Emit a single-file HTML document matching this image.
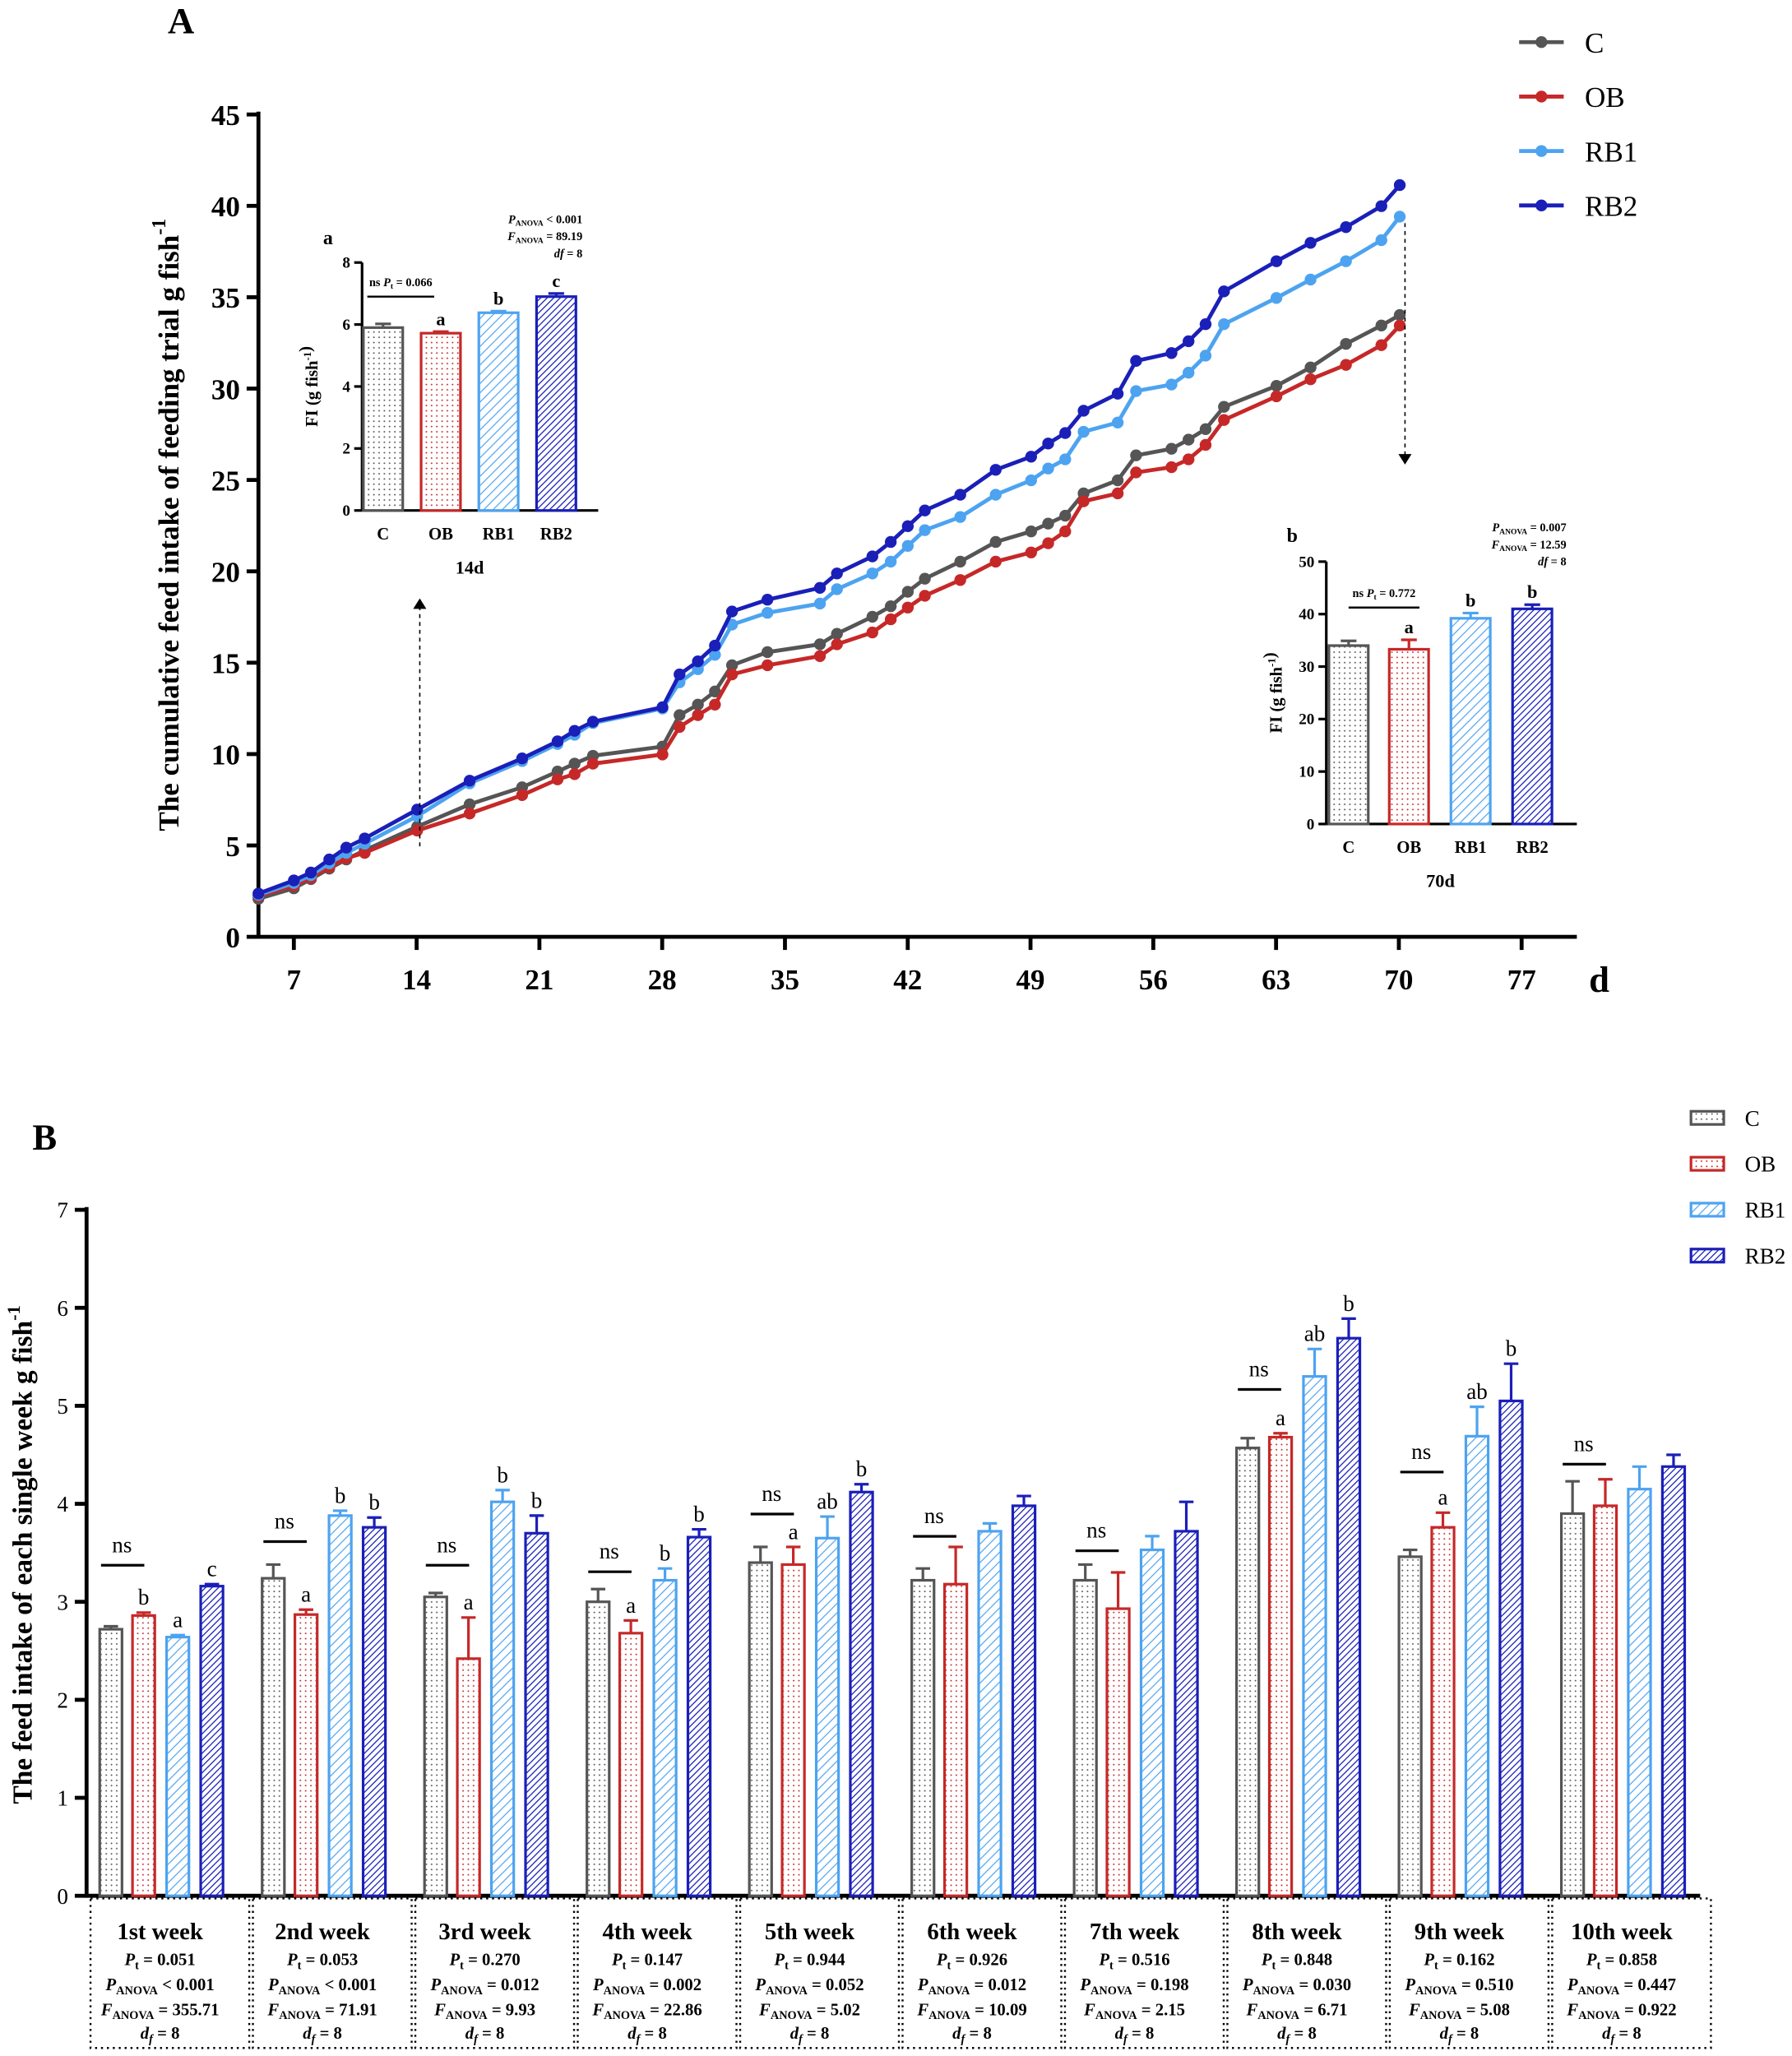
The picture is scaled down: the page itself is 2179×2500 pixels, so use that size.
<!DOCTYPE html><html><head><meta charset="utf-8"><style>body{margin:0;background:#fff}svg{display:block;font-family:"Liberation Serif",serif}</style></head><body>
<svg id="s" width="2179" height="2500" viewBox="0 0 1366 1567" xmlns="http://www.w3.org/2000/svg">
<defs>
<pattern id="pC" width="4" height="4" patternUnits="userSpaceOnUse"><rect width="4" height="4" fill="#fff"/><circle cx="1" cy="1" r="0.6" fill="#555"/></pattern>
<pattern id="pO" width="4" height="4" patternUnits="userSpaceOnUse"><rect width="4" height="4" fill="#fff"/><circle cx="1" cy="1" r="0.6" fill="#c62828"/></pattern>
<pattern id="pR1" width="5" height="5" patternUnits="userSpaceOnUse" patternTransform="rotate(45)"><rect width="5" height="5" fill="#fff"/><line x1="0" y1="0" x2="0" y2="5" stroke="#4da3f0" stroke-width="1.5"/></pattern>
<pattern id="pR2" width="3.5" height="3.5" patternUnits="userSpaceOnUse" patternTransform="rotate(45)"><rect width="4" height="4" fill="#fff"/><line x1="0" y1="0" x2="0" y2="4" stroke="#1a1fb8" stroke-width="1.6"/></pattern>
<marker id="ar" markerWidth="8" markerHeight="10" refX="4" refY="5" orient="auto"><path d="M0,0 L8,5 L0,10 z" fill="#000"/></marker>
</defs>
<g id="g"></g>
</svg>
<script>
const g=document.getElementById('g');let h='';
const col={C:'#555',OB:'#c62828',RB1:'#4da3f0',RB2:'#1a1fb8'};
const pat={C:'url(#pC)',OB:'url(#pO)',RB1:'url(#pR1)',RB2:'url(#pR2)'};
const K=['C','OB','RB1','RB2'];
function T(x,y,t,o){o=o||{};h+=`<text x="${x}" y="${y}" font-size="${o.s||14}" font-weight="${o.w||'bold'}" text-anchor="${o.a||'middle'}" ${o.tr?'transform="'+o.tr+'"':''} fill="#000">${t}</text>`;}
function L(x1,y1,x2,y2,c,w,e){h+=`<line x1="${x1}" y1="${y1}" x2="${x2}" y2="${y2}" stroke="${c||'#000'}" stroke-width="${w||2}" ${e||''}/>`;}
// Panel A
T(138,25,'A',{s:28});
L(197,85,197,715,'#000',3);L(196,714,1202,714,'#000',3);
for(let v=0;v<=45;v+=5){let y=714-v*13.93;L(188,y,197,y,'#000',3);T(183,y+8,v,{s:22,a:'end'});}
[7,14,21,28,35,42,49,56,63,70,77].forEach(d=>{let x=224+(d-7)*13.37;L(x,714,x,724,'#000',3);T(x,754,d,{s:22});});
T(1219,756,'d',{s:28});
T(136,400,'The cumulative feed intake of feeding trial g fish<tspan dy="-10" font-size="15">-1</tspan>',{s:22,tr:'rotate(-90 136 400)'});
const S={
C:[[197,685],[224,677],[237,670],[251,662],[264,655],[278,648],[318,630],[358,613],[398,600],[425,588],[438,582],[452,576],[505,569],[518,545],[532,537],[545,527],[558,507],[585,497],[625,491],[638,483],[665,470],[679,462],[692,451],[705,441],[732,428],[759,413],[786,405],[799,399],[812,393],[826,376],[852,366],[866,347],[893,342],[906,335],[919,327],[933,310],[973,294],[999,280],[1026,262],[1053,248],[1067,240]],
OB:[[197,683],[224,675],[237,669],[251,661],[264,654],[278,650],[318,633],[358,620],[398,606],[425,594],[438,590],[452,582],[505,575],[518,554],[532,545],[545,537],[558,514],[585,507],[625,500],[638,491],[665,482],[679,472],[692,463],[705,454],[732,442],[759,428],[786,421],[799,414],[812,405],[826,382],[852,376],[866,360],[893,356],[906,350],[919,339],[933,320],[973,302],[999,289],[1026,278],[1053,263],[1067,248]],
RB1:[[197,682],[224,673],[237,667],[251,658],[264,650],[278,643],[318,622],[358,597],[398,580],[425,567],[438,560],[452,551],[505,540],[518,520],[532,510],[545,499],[558,476],[585,467],[625,460],[638,449],[665,437],[679,428],[692,416],[705,404],[732,394],[759,377],[786,366],[799,357],[812,350],[826,329],[852,322],[866,298],[893,293],[906,284],[919,271],[933,247],[973,227],[999,213],[1026,199],[1053,183],[1067,165]],
RB2:[[197,681],[224,671],[237,665],[251,655],[264,646],[278,639],[318,617],[358,595],[398,578],[425,565],[438,557],[452,550],[505,539],[518,514],[532,504],[545,492],[558,466],[585,457],[625,448],[638,437],[665,424],[679,413],[692,401],[705,389],[732,377],[759,358],[786,348],[799,338],[812,330],[826,313],[852,300],[866,275],[893,269],[906,260],[919,247],[933,222],[973,199],[999,185],[1026,173],[1053,157],[1067,141]]};
K.forEach(k=>{h+=`<polyline fill="none" stroke="${col[k]}" stroke-width="3" points="${S[k].map(p=>p.join(',')).join(' ')}"/>`;S[k].forEach(p=>h+=`<circle cx="${p[0]}" cy="${p[1]}" r="4.5" fill="${col[k]}"/>`);});
L(320,645,320,460,'#000',1,'stroke-dasharray="3,3" marker-end="url(#ar)"');
L(1071,170,1071,350,'#000',1,'stroke-dasharray="3,3" marker-end="url(#ar)"');
K.forEach((k,i)=>{let y=32+i*41.5;L(1158,y,1192,y,col[k],3);h+=`<circle cx="1175" cy="${y}" r="4.5" fill="${col[k]}"/>`;T(1208,y+8,k,{s:22,a:'start',w:'normal'});});
function inset(x0,x1,yt,yb,max,step,bars,ttl,cap,stat,ns){
 L(x0,yt,x0,yb,'#000',2);L(x0,yb,x1,yb,'#000',2);
 for(let v=0;v<=max;v+=step){let y=yb-v*(yb-yt)/max;L(x0-6,y,x0,y,'#000',2);T(x0-9,y+4,v,{s:12,a:'end'});}
 T(x0-34,(yt+yb)/2,'FI (g fish<tspan dy="-5" font-size="8">-1</tspan>)',{s:13,tr:`rotate(-90 ${x0-34} ${(yt+yb)/2})`});
 T(ttl[0],ttl[1],ttl[2],{s:15});
 bars.forEach((b,i)=>{let k=K[i],y=yb-b[1]*(yb-yt)/max,ye=yb-(b[1]+b[2])*(yb-yt)/max;
  h+=`<rect x="${b[0]}" y="${y}" width="30" height="${yb-y}" fill="${pat[k]}" stroke="${col[k]}" stroke-width="2"/>`;
  L(b[0]+15,y,b[0]+15,ye,col[k],2);L(b[0]+9,ye,b[0]+21,ye,col[k],2);
  T(b[0]+15,yb+22,k,{s:13});if(b[3])T(b[0]+15,ye-5,b[3],{s:14});});
 T((bars[0][0]+bars[3][0]+30)/2,yb+48,cap,{s:14});
 stat.forEach((s,i)=>T(stat.x,stat.y+i*13,s,{s:9,w:'bold',a:'end'}));
 L(ns[0],ns[2],ns[1],ns[2],'#000',1.5);T((ns[0]+ns[1])/2,ns[2]-8,ns[3],{s:9});
}
let st1=['<tspan font-style="italic">P</tspan><tspan font-size="6" dy="2">ANOVA</tspan><tspan dy="-2"> &lt; 0.001</tspan>','<tspan font-style="italic">F</tspan><tspan font-size="6" dy="2">ANOVA</tspan><tspan dy="-2"> = 89.19</tspan>','<tspan font-style="italic">df</tspan> = 8'];st1.x=444;st1.y=170;
inset(276,456,200,389,8,2,[[277,5.9,0.12],[321,5.72,0.05,'a'],[365,6.38,0.05,'b'],[409,6.9,0.1,'c']],[250,186,'a'],'14d',st1,[280,331,226,'ns <tspan font-style="italic">P</tspan><tspan font-size="6" dy="2">t</tspan><tspan dy="-2"> = 0.066</tspan>']);
let st2=['<tspan font-style="italic">P</tspan><tspan font-size="6" dy="2">ANOVA</tspan><tspan dy="-2"> = 0.007</tspan>','<tspan font-style="italic">F</tspan><tspan font-size="6" dy="2">ANOVA</tspan><tspan dy="-2"> = 12.59</tspan>','<tspan font-style="italic">df</tspan> = 8'];st2.x=1194;st2.y=405;
inset(1011,1202,428,628,50,10,[[1013,34,0.9],[1059,33.3,1.8,'a'],[1106,39.2,1,'b'],[1153,41,0.8,'b']],[985,413,'b'],'70d',st2,[1028,1082,463,'ns <tspan font-style="italic">P</tspan><tspan font-size="6" dy="2">t</tspan><tspan dy="-2"> = 0.772</tspan>']);
// Panel B
T(34,876,'B',{s:28});
L(66,920,66,1446,'#000',3);L(65,1445,1296,1445,'#000',3);
for(let v=0;v<=7;v++){let y=1445-v*74.7;L(57,y,66,y,'#000',3);T(52,y+6,v,{s:17,a:'end',w:'normal'});}
T(24,1185,'The feed intake of each single week g fish<tspan dy="-9" font-size="14">-1</tspan>',{s:21,tr:'rotate(-90 24 1185)'});
const D=[[[2.72,2.86,2.64,3.16],[.03,.03,.02,.02],['','b','a','c'],1193,'0.051','&lt; 0.001','355.71'],
[[3.24,2.87,3.88,3.76],[.14,.05,.05,.1],['','a','b','b'],1175,'0.053','&lt; 0.001','71.91'],
[[3.05,2.42,4.02,3.70],[.04,.42,.12,.18],['','a','b','b'],1193,'0.270','= 0.012','9.93'],
[[3.00,2.68,3.22,3.66],[.13,.13,.12,.08],['','a','b','b'],1198,'0.147','= 0.002','22.86'],
[[3.40,3.38,3.65,4.12],[.16,.18,.22,.08],['','a','ab','b'],1154,'0.944','= 0.052','5.02'],
[[3.22,3.18,3.72,3.98],[.12,.38,.08,.1],['','','',''],1171,'0.926','= 0.012','10.09'],
[[3.22,2.93,3.53,3.72],[.16,.37,.14,.3],['','','',''],1182,'0.516','= 0.198','2.15'],
[[4.57,4.68,5.30,5.69],[.1,.04,.28,.2],['','a','ab','b'],1059,'0.848','= 0.030','6.71'],
[[3.46,3.76,4.69,5.05],[.07,.15,.3,.38],['','a','ab','b'],1122,'0.162','= 0.510','5.08'],
[[3.90,3.98,4.15,4.38],[.33,.27,.23,.12],['','','',''],1116,'0.858','= 0.447','0.922']];
const wk=['1st','2nd','3rd','4th','5th','6th','7th','8th','9th','10th'];
D.forEach((d,j)=>{let g0=72+j*123.8;
 [4,29,55,81].forEach((o,i)=>{let k=K[i],x=g0+o,y=1445-d[0][i]*74.7,ye=1445-(d[0][i]+d[1][i])*74.7;
  h+=`<rect x="${x}" y="${y}" width="17" height="${1445-y}" fill="${pat[k]}" stroke="${col[k]}" stroke-width="2"/>`;
  L(x+8.5,y,x+8.5,ye,col[k],2);L(x+3,ye,x+14,ye,col[k],2);
  if(d[2][i])T(x+8.5,ye-6,d[2][i],{s:17,w:'normal'});});
 L(g0+5,d[3],g0+38,d[3],'#000',2);T(g0+21,d[3]-10,'ns',{s:17,w:'normal'});
 let cx=g0+50;
 h+=`<rect x="${g0-3}" y="1447" width="121" height="114" fill="none" stroke="#000" stroke-width="1.5" stroke-dasharray="1.5,3"/>`;
 T(cx,1478,wk[j]+' week',{s:18});
 T(cx,1498,'<tspan font-style="italic">P</tspan><tspan font-size="9" dy="3">t</tspan><tspan dy="-3"> = '+d[4]+'</tspan>',{s:13});
 T(cx,1517,'<tspan font-style="italic">P</tspan><tspan font-size="9" dy="3">ANOVA</tspan><tspan dy="-3"> '+d[5]+'</tspan>',{s:13});
 T(cx,1536,'<tspan font-style="italic">F</tspan><tspan font-size="9" dy="3">ANOVA</tspan><tspan dy="-3"> = '+d[6]+'</tspan>',{s:13});
 T(cx,1554,'<tspan font-style="italic">d</tspan><tspan font-size="9" dy="3" font-style="italic">f</tspan><tspan dy="-3"> = 8</tspan>',{s:13});
});
K.forEach((k,i)=>{let y=852+i*35;h+=`<rect x="1289" y="${y-5}" width="25" height="10" fill="${pat[k]}" stroke="${col[k]}" stroke-width="2"/>`;T(1330,y+6,k,{s:17,a:'start',w:'normal'});});
g.innerHTML=h;
</script>
</body></html>
